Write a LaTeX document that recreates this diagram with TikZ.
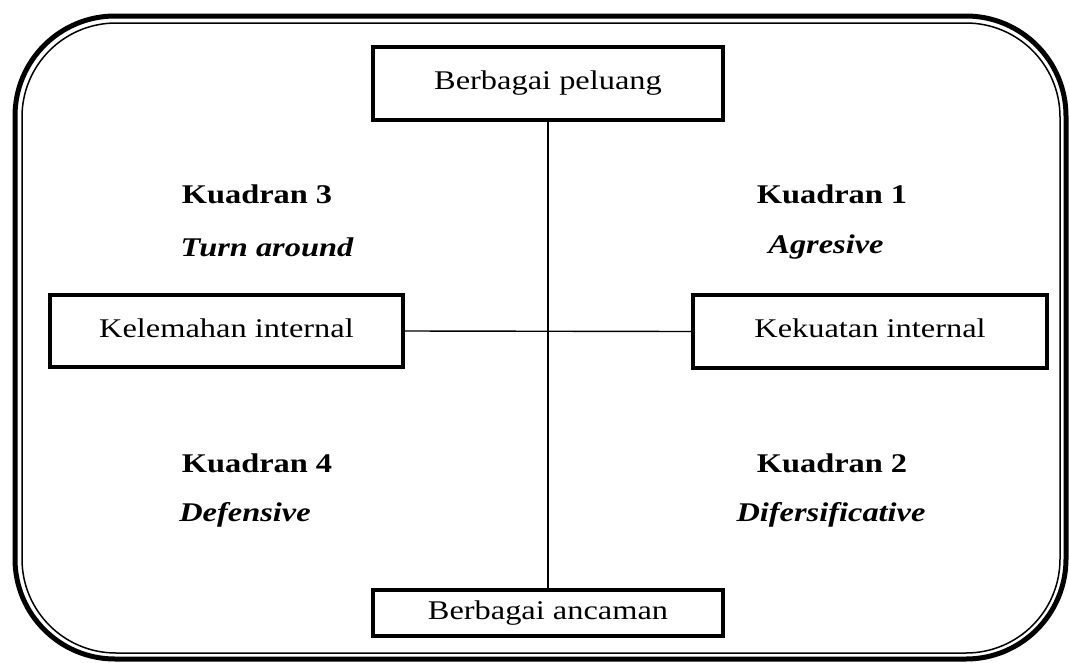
\documentclass[tikz,border=0pt]{standalone}
\usepackage{fontspec}
\setmainfont{Liberation Serif}[FakeStretch=1.2]
\begin{document}
\begin{tikzpicture}[x=1pt,y=-1pt,
  box/.style={draw,line width=3.5pt,minimum width=#1,inner sep=0pt,font=\fontsize{27}{30}\selectfont},
  conn/.style={line width=1.4pt},
  quad/.style={font=\fontsize{27}{30}\selectfont\bfseries},
  strat/.style={font=\fontsize{27}{30}\selectfont\bfseries\itshape}]
\useasboundingbox (0,0) rectangle (1069,662);
% outer double frame
\draw[line width=5pt,rounded corners=100pt] (15,16) rectangle (1066,659);
\draw[line width=1.5pt,rounded corners=94pt] (22,23) rectangle (1060,653);
% boxes
\node[box=350pt,minimum height=73pt] (top) at (548,83.5) {\raisebox{4pt}{Berbagai peluang}};
\node[box=353pt,minimum height=72pt] (left) at (226.5,331) {\raisebox{6pt}{Kelemahan internal}};
\node[box=354pt,minimum height=73pt] (right) at (870,331.5) {\raisebox{6pt}{Kekuatan internal}};
\node[box=350pt,minimum height=46pt] (bot) at (548,613) {Berbagai ancaman};
% axes
\draw[conn] (top.south) -- (bot.north);
\draw[conn] (left.east) -- (right.west);
% quadrant labels
\node[quad] (k3) at (257,194) {Kuadran 3};
\node[strat] (s3) at (267,247) {Turn around};
\node[quad] (k1) at (832,194) {Kuadran 1};
\node[strat] (s1) at (826,247) {Agresive};
\node[quad] (k4) at (257,463) {Kuadran 4};
\node[strat] (s4) at (245,515) {Defensive};
\node[quad] (k2) at (832,463) {Kuadran 2};
\node[strat] (s2) at (831,515) {Difersificative};
\end{tikzpicture}
\end{document}
